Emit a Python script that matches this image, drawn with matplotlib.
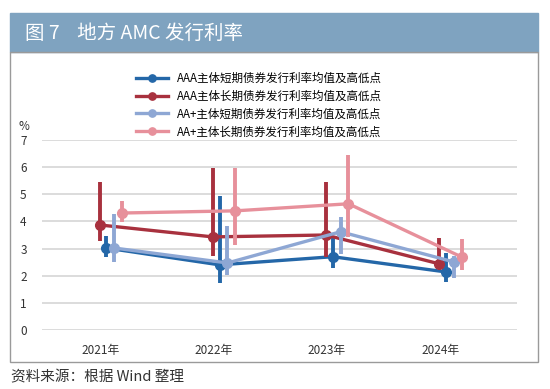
import matplotlib
matplotlib.use("Agg")
import matplotlib.pyplot as plt
from matplotlib.patches import Rectangle

plt.rcParams["font.family"] = ["Noto Sans CJK SC", "DejaVu Sans"]

# ─── 数据 ──────────────────────────────────────────────
years = ["2021年", "2022年", "2023年", "2024年"]
series_names = [
    "AAA主体短期债券发行利率均值及高低点",
    "AAA主体长期债券发行利率均值及高低点",
    "AA+主体短期债券发行利率均值及高低点",
    "AA+主体长期债券发行利率均值及高低点",
]
aaa_short_mean = [3.02, 2.40, 2.70, 2.14]
aaa_short_high = [3.47, 4.94, 3.47, 2.84]
aaa_short_low = [2.70, 1.73, 2.29, 1.77]

aaa_long_mean = [3.87, 3.43, 3.50, 2.44]
aaa_long_high = [5.46, 5.98, 5.46, 3.39]
aaa_long_low = [3.28, 2.73, 2.70, 2.32]

aap_short_mean = [3.02, 2.47, 3.62, 2.51]
aap_short_high = [4.28, 3.84, 4.17, 2.72]
aap_short_low = [2.50, 2.03, 2.80, 1.92]

aap_long_mean = [4.31, 4.39, 4.65, 2.69]
aap_long_high = [4.76, 5.98, 6.46, 3.36]
aap_long_low = [3.98, 3.14, 3.43, 2.21]

means = [aaa_short_mean, aaa_long_mean, aap_short_mean, aap_long_mean]
highs = [aaa_short_high, aaa_long_high, aap_short_high, aap_long_high]
lows = [aaa_short_low, aaa_long_low, aap_short_low, aap_long_low]
colors = ["#2467a8", "#a8313e", "#8ea7d4", "#e7909b"]
offsets = [0.05, -0.01, 0.12, 0.19]

# ─── 画布 ──────────────────────────────────────────────
fig = plt.figure(figsize=(5.5, 3.89), dpi=100)
W, H = 550, 389

# 标题栏 + 外框
fig.patches.append(Rectangle((10 / W, 1 - 52 / H), 528 / W, 39 / H,
                             transform=fig.transFigure, color="#7fa3c0", zorder=0))
fig.patches.append(Rectangle((10 / W, 1 - 362 / H), 528 / W, 310 / H,
                             transform=fig.transFigure, fill=False,
                             edgecolor="#9a9a9a", linewidth=1.0, zorder=0))
fig.text(25 / W, 1 - 33 / H, "图 7    地方 AMC 发行利率", color="white",
         fontsize=14, va="center", ha="left")
fig.text(11 / W, 1 - 377 / H, "资料来源：根据 Wind 整理", color="#333333",
         fontsize=10.5, va="center", ha="left")

ax = fig.add_axes([42 / W, 1 - 330 / H, 475 / W, 190 / H])
ax.set_xlim(-0.52, 3.68)
ax.set_ylim(0, 7)

for k in range(4):
    xs = [i + offsets[k] for i in range(len(years))]
    ax.plot(xs, means[k], color=colors[k], linewidth=2.4, marker="o",
            markersize=7, label=series_names[k], zorder=3 + k)
    ax.vlines(xs, lows[k], highs[k], color=colors[k], linewidth=2.8, zorder=3 + k)

ax.set_yticks(range(0, 8))
ax.set_xticks(range(len(years)))
ax.set_xticklabels(years)
ax.tick_params(length=0, labelsize=8.5, colors="#333333")
ax.tick_params(axis="x", pad=10)
ax.tick_params(axis="y", pad=11)
ax.grid(axis="y", color="#d9d9d9", linewidth=1.3)
ax.set_axisbelow(True)
for s in ax.spines.values():
    s.set_visible(False)

fig.text(24 / W, 1 - 127 / H, "%", fontsize=8.5, color="#333333", ha="center", va="center")

fig.legend(loc="upper left", bbox_to_anchor=(130 / W, 1 - 66 / H), frameon=False,
           fontsize=8.3, handlelength=2.8, labelspacing=0.42, borderpad=0,
           handletextpad=0.8, markerscale=0.75)

fig.savefig("out.png", dpi=100)
